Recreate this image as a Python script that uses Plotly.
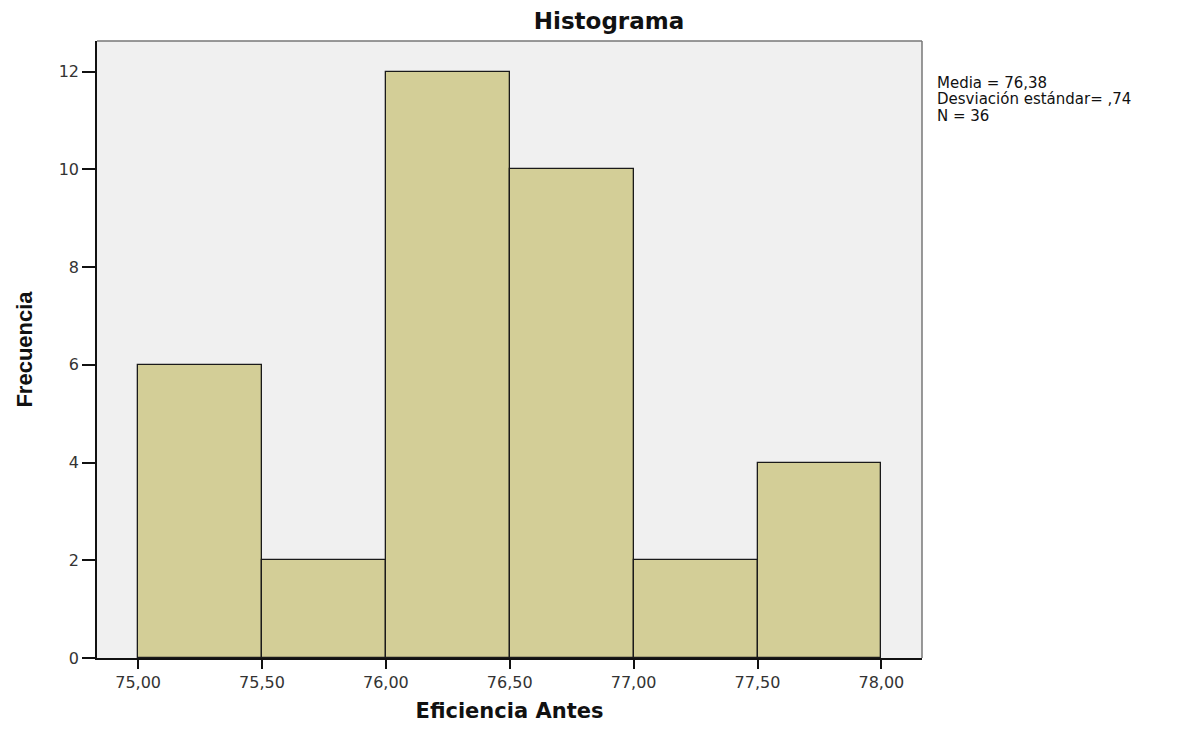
import plotly.graph_objects as go

bin_starts = [75.0, 75.5, 76.0, 76.5, 77.0, 77.5]
counts = [6, 2, 12, 10, 2, 4]
bin_width = 0.5
x_ticks = [75.0, 75.5, 76.0, 76.5, 77.0, 77.5, 78.0]
x_tick_labels = ["75,00", "75,50", "76,00", "76,50", "77,00", "77,50", "78,00"]
y_ticks = [0, 2, 4, 6, 8, 10, 12]
stats_lines = ["Media = 76,38", "Desviación estándar= ,74", "N = 36"]

centers = [s + bin_width / 2 for s in bin_starts]

# page body has an 8px margin; size the figure so the plot area lands where the reference has it
W, H = 1183, 722
L, T = 89, 33
PW, PH = 825, 617

fig = go.Figure()
fig.add_trace(go.Bar(
    x=centers, y=counts, width=[bin_width] * len(counts),
    marker=dict(color="#d3ce97", line=dict(color="#1a1a1a", width=1.3)),
    showlegend=False,
))

fig.update_layout(
    width=W, height=H,
    margin=dict(l=L, r=W - L - PW, t=T, b=H - T - PH, autoexpand=False),
    paper_bgcolor="white", plot_bgcolor="#f0f0f0",
    bargap=0,
    title=dict(text="<b>Histograma</b>", x=(609 - 8) / W, xanchor="center",
               y=1 - 13 / H, yanchor="middle",
               font=dict(family="DejaVu Sans", size=23, color="#111111")),
    xaxis=dict(range=[74.834, 78.164], tickvals=x_ticks, ticktext=x_tick_labels,
               ticks="outside", ticklen=9, tickwidth=1.5, tickcolor="#111111",
               showline=True, linecolor="#111111", linewidth=1.5,
               showgrid=False, zeroline=False,
               tickfont=dict(family="DejaVu Sans", size=16, color="#333333"),
               title=dict(text="<b>Eficiencia Antes</b>", standoff=12,
                          font=dict(family="DejaVu Sans", size=21, color="#111111"))),
    yaxis=dict(range=[0, 12.63], tickvals=y_ticks,
               ticks="outside", ticklen=13, tickwidth=1.5, tickcolor="#111111",
               showline=True, linecolor="#111111", linewidth=1.5,
               showgrid=False, zeroline=False,
               tickfont=dict(family="DejaVu Sans", size=16, color="#333333"),
               title=dict(text="<b>Frecuencia</b>", standoff=20,
                          font=dict(family="Liberation Sans", size=22, color="#111111"))),
)

# top and right frame lines (grey)
fig.add_shape(type="line", xref="paper", yref="paper", x0=0, x1=1, y0=1, y1=1,
              line=dict(color="#777777", width=1.5))
fig.add_shape(type="line", xref="paper", yref="paper", x0=1, x1=1, y0=0, y1=1,
              line=dict(color="#777777", width=1.5))

line_offsets = [41.5, 58, 75]
for txt, d in zip(stats_lines, line_offsets):
    fig.add_annotation(text=txt, xref="paper", yref="paper",
                       x=1 + 13 / PW, y=1 - d / PH, xanchor="left", yanchor="middle",
                       align="left", showarrow=False,
                       font=dict(family="DejaVu Sans", size=15, color="#111111"))

fig.write_html("out.html")
